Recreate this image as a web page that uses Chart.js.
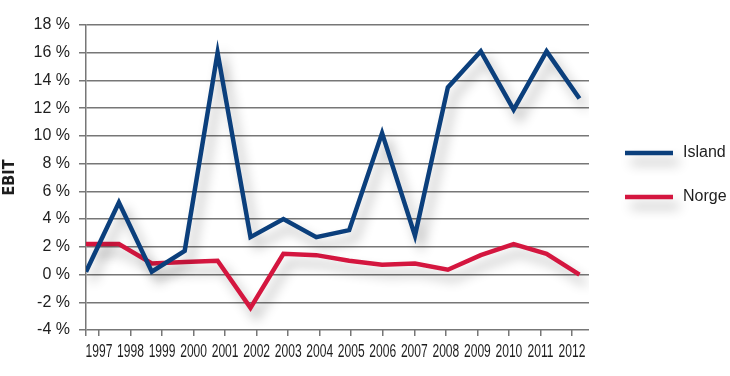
<!DOCTYPE html>
<html>
<head>
<meta charset="utf-8">
<script src="https://cdn.jsdelivr.net/npm/chart.js@4/dist/chart.umd.min.js"></script>
<style>
  html, body { margin: 0; padding: 0; background: #fff; }
  #wrap { width: 730px; height: 376px; }
</style>
</head>
<body>
<div id="wrap"><canvas id="c"></canvas></div>
<script>
// values (EBIT, %)
const years = [1997, 1998, 1999, 2000, 2001, 2002, 2003, 2004, 2005, 2006, 2007, 2008, 2009, 2010, 2011, 2012];
const island = [0.2, 5.2, 0.2, 1.7, 16.0, 2.7, 4.0, 2.7, 3.2, 10.2, 2.8, 13.5, 16.1, 11.9, 16.1, 12.7];
const norge = [2.2, 2.2, 0.8, 0.9, 1.0, -2.4, 1.5, 1.4, 1.0, 0.7, 0.8, 0.35, 1.4, 2.2, 1.5, 0.0];
const yTicks = [-4, -2, 0, 2, 4, 6, 8, 10, 12, 14, 16, 18];

const BLUE = '#0b3f7c';
const RED = '#d4163f';
const GRID = '#777';
const TXT = '#1e1e1e';
const SANS = "'Liberation Sans', Arial, sans-serif";

function setShadow(ctx) {
    ctx.shadowColor = 'rgba(0,0,0,0.3)';
    ctx.shadowBlur = 12;
    ctx.shadowOffsetX = 6;
    ctx.shadowOffsetY = 9;
}

// grey drop shadow under the lines
const shadowPlugin = {
    id: 'shadow',
    beforeDatasetDraw(chart) { chart.ctx.save(); setShadow(chart.ctx); },
    afterDatasetDraw(chart) { chart.ctx.restore(); }
};

// year labels in a condensed look (squeezed horizontally), placed by the years scale
const yearLabels = {
    id: 'yearLabels',
    afterDraw(chart) {
        const s = chart.scales.years;
        const ctx = chart.ctx;
        ctx.save();
        ctx.fillStyle = TXT;
        ctx.font = '18px ' + SANS;
        ctx.textAlign = 'center';
        ctx.textBaseline = 'alphabetic';
        years.forEach(y => {
            const x = s.getPixelForValue(y);
            ctx.save();
            ctx.translate(x, s.top + 27);
            ctx.scale(0.67, 1);
            ctx.fillText(String(y), 0, 0);
            ctx.restore();
        });
        ctx.restore();
    }
};

// legend on the right, lines with shadow
const legendPlugin = {
    id: 'sideLegend',
    afterDraw(chart) {
        const ctx = chart.ctx;
        chart.data.datasets.forEach((ds, i) => {
            const y = 153 + i * 44;
            ctx.save();
            setShadow(ctx);
            ctx.strokeStyle = ds.borderColor;
            ctx.lineWidth = 4.5;
            ctx.beginPath();
            ctx.moveTo(625, y);
            ctx.lineTo(673, y);
            ctx.stroke();
            ctx.restore();
            ctx.save();
            ctx.fillStyle = TXT;
            ctx.font = '16px ' + SANS;
            ctx.textBaseline = 'middle';
            ctx.fillText(ds.label, 683, y);
            ctx.restore();
        });
    }
};

const toPoints = arr => arr.map((v, i) => ({ x: i, y: v }));

new Chart(document.getElementById('c'), {
    type: 'line',
    data: {
        datasets: [
            { label: 'Island', data: toPoints(island), borderColor: BLUE, backgroundColor: BLUE,
              borderWidth: 4.5, pointRadius: 0, tension: 0, borderJoinStyle: 'miter', xAxisID: 'x' },
            { label: 'Norge', data: toPoints(norge), borderColor: RED, backgroundColor: RED,
              borderWidth: 4.5, pointRadius: 0, tension: 0, borderJoinStyle: 'miter', xAxisID: 'x' }
        ]
    },
    options: {
        responsive: true,
        maintainAspectRatio: false,
        animation: false,
        layout: { padding: { top: 25, right: 141, left: 0, bottom: 0 } },
        plugins: { legend: { display: false }, tooltip: { enabled: false } },
        scales: {
            x: {
                type: 'linear', display: false, min: 0, max: 15.29
            },
            years: {
                type: 'linear', position: 'bottom', axis: 'x',
                min: 1996.588, max: 2012.54,
                afterBuildTicks: s => { s.ticks = [s.min, ...years].map(v => ({ value: v })); },
                afterFit: s => { s.height = 46; },
                grid: { drawOnChartArea: false, drawTicks: true, tickLength: 6, color: GRID, lineWidth: 1.5 },
                border: { display: false },
                ticks: { display: false }
            },
            y: {
                type: 'linear', min: -4, max: 18,
                afterBuildTicks: s => { s.ticks = yTicks.map(v => ({ value: v })); },
                afterFit: s => { s.width = 86; },
                grid: { color: GRID, lineWidth: 1.5, tickLength: 7 },
                border: { color: GRID, width: 1.5 },
                title: {
                    display: true, text: 'EBIT', color: TXT, padding: { top: 0, bottom: 0 },
                    font: { family: "'DejaVu Sans Condensed', " + SANS, size: 16, weight: 'bold' }
                },
                ticks: {
                    padding: 9, color: TXT,
                    font: { family: SANS, size: 16 },
                    callback: v => v + ' %'
                }
            }
        }
    },
    plugins: [shadowPlugin, yearLabels, legendPlugin]
});
</script>
</body>
</html>
